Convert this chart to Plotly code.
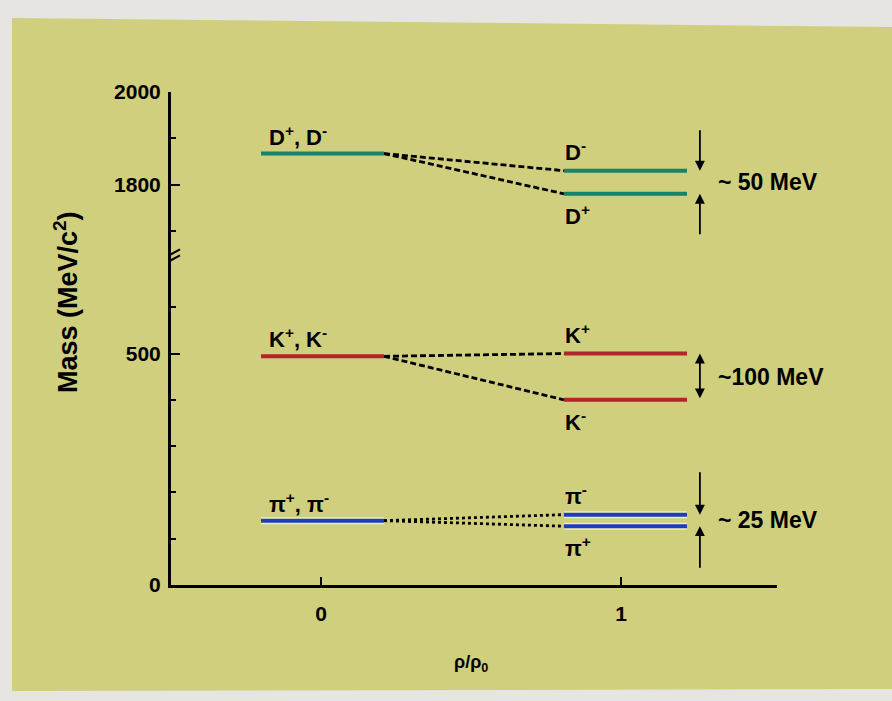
import plotly.graph_objects as go

# ---- level data (MeV/c^2) --------------------------------------------------
mesons = ["pi", "K", "D"]
vacuum_mass = [139, 494, 1867]          # degenerate pair at rho/rho0 = 0
upper_mass = [152, 500, 1830]           # pi-, K+, D-  at rho/rho0 = 1
lower_mass = [127, 400, 1780]           # pi+, K-, D+  at rho/rho0 = 1

vacuum_names = ["π<sup>+</sup>, π<sup>-</sup>", "K<sup>+</sup>, K<sup>-</sup>", "D<sup>+</sup>, D<sup>-</sup>"]
upper_names = ["π<sup>-</sup>", "K<sup>+</sup>", "D<sup>-</sup>"]
lower_names = ["π<sup>+</sup>", "K<sup>-</sup>", "D<sup>+</sup>"]
splitting_text = ["~ 25 MeV", "~100 MeV", "~ 50 MeV"]

y_major_ticks = [0, 500, 1800, 2000]
y_minor_ticks = [100, 200, 300, 400, 600, 1700, 1900]
x_ticks = [0, 1]

# ---- styling -------------------------------------------------------------
level_colors = {"pi": "#1c3dbd", "K": "#b3242b", "D": "#17836a"}
connector_dash = {"pi": "3px,3px", "K": "6px,3px", "D": "6px,3px"}
arrow_kind = {"pi": "inward", "K": "between", "D": "inward"}
arrow_tails = {"pi": (-44, 43), "D": (-42, 42)}
FONT = "Liberation Sans, Arial, sans-serif"
PANEL = "#cfcf7e"
OUTER = "#e7e5e1"

# broken mass axis: values above the break are shifted down by OFFSET
OFFSET = 935
BREAK_AT = 708


def ty(m):
    return m - OFFSET if m > 1000 else m


# horizontal extent of the levels (in rho/rho0)
VAC_X = [-0.2, 0.21]
NUC_X = [0.81, 1.22]
ARROW_X = 1.263
TEXT_X = 1.318

W, H = 892, 701
ML, MR, MT, MB = 171, 115, 92, 116
PW, PH = W - ML - MR, H - MT - MB


def pxp(px, py):
    return (px - ML) / PW, (H - MB - py) / PH


fig = go.Figure()

for i, name in enumerate(mesons):
    col = level_colors[name]
    m0, mu, ml = vacuum_mass[i], upper_mass[i], lower_mass[i]
    # dashed connectors from vacuum level to split levels
    for mt in (mu, ml):
        fig.add_trace(go.Scatter(
            x=[VAC_X[1], NUC_X[0]], y=[ty(m0), ty(mt)], mode="lines",
            line=dict(color="black", width=2.8, dash=connector_dash[name]),
            hoverinfo="skip", showlegend=False))
    # solid levels
    for xs, m in ((VAC_X, m0), (NUC_X, mu), (NUC_X, ml)):
        if name == "pi":
            fig.add_trace(go.Scatter(
                x=xs, y=[ty(m), ty(m)], mode="lines",
                line=dict(color="#eef0b8", width=7),
                hoverinfo="skip", showlegend=False))
        fig.add_trace(go.Scatter(
            x=xs, y=[ty(m), ty(m)], mode="lines",
            line=dict(color=col, width=4),
            hoverinfo="skip", showlegend=False))

annotations = []
lab_font = dict(family=FONT, size=22, color="black", weight="bold")
for i, name in enumerate(mesons):
    m0, mu, ml = vacuum_mass[i], upper_mass[i], lower_mass[i]
    annotations.append(dict(x=VAC_X[0] + 0.02, y=ty(m0), xref="x", yref="y",
                            text=vacuum_names[i], showarrow=False, xanchor="left",
                            yanchor="middle", yshift=18, font=lab_font))
    annotations.append(dict(x=NUC_X[0] - 0.005, y=ty(mu), xref="x", yref="y",
                            text=upper_names[i], showarrow=False, xanchor="left",
                            yanchor="middle", yshift=20, font=lab_font))
    annotations.append(dict(x=NUC_X[0] - 0.005, y=ty(ml), xref="x", yref="y",
                            text=lower_names[i], showarrow=False, xanchor="left",
                            yanchor="middle", yshift=-21, font=lab_font))
    # splitting arrows
    arrow = dict(showarrow=True, arrowhead=2, arrowsize=1.1, arrowwidth=1.8,
                 arrowcolor="black", text="", xref="x", yref="y")
    if arrow_kind[name] == "between":
        annotations.append(dict(arrow, x=ARROW_X, y=ty(mu), ax=ARROW_X, ay=ty(ml),
                                axref="x", ayref="y", arrowside="end+start",
                                startarrowhead=2, startarrowsize=1.1))
    else:
        up_tail, low_tail = arrow_tails[name]
        annotations.append(dict(arrow, x=ARROW_X, y=ty(mu), ax=0, ay=up_tail))
        annotations.append(dict(arrow, x=ARROW_X, y=ty(ml), ax=0, ay=low_tail))
    annotations.append(dict(x=TEXT_X, y=(ty(mu) + ty(ml)) / 2, xref="x", yref="y",
                            text=splitting_text[i], showarrow=False, xanchor="left",
                            yanchor="middle",
                            font=dict(family=FONT, size=23, color="black", weight="bold")))

# axis titles
tx, tyy = pxp(66, 302)
annotations.append(dict(x=tx, y=tyy, xref="paper", yref="paper", xanchor="center",
                        yanchor="middle", text="Mass (MeV/c<sup>2</sup>)", showarrow=False,
                        textangle=-90,
                        font=dict(family=FONT, size=27, color="black", weight="bold")))
tx, tyy = pxp(471, 663)
annotations.append(dict(x=tx, y=tyy, xref="paper", yref="paper", xanchor="center",
                        yanchor="middle", text="ρ/ρ<sub>0</sub>", showarrow=False,
                        font=dict(family=FONT, size=18, color="black", weight="bold")))

# background panel
corners = [pxp(12, 18), pxp(892, 27), pxp(892, 689), pxp(12, 691)]
path = "M " + " L ".join(f"{x:.4f},{y:.4f}" for x, y in corners) + " Z"
shapes = [dict(type="path", path=path, xref="paper", yref="paper",
               fillcolor=PANEL, line=dict(width=0), layer="below")]

# axis break marks
shapes.append(dict(type="rect", xref="x", yref="y", xsizemode="pixel", ysizemode="pixel",
                   xanchor=-0.5, yanchor=BREAK_AT, x0=-4, x1=4, y0=-2, y1=3,
                   fillcolor=PANEL, line=dict(width=0), layer="above"))
for dy in (-3, 3):
    shapes.append(dict(type="line", xref="x", yref="y", xsizemode="pixel",
                       ysizemode="pixel", xanchor=-0.5, yanchor=BREAK_AT,
                       x0=-9, x1=9, y0=dy - 5, y1=dy + 5,
                       line=dict(color="black", width=2), layer="above"))

tick_font = dict(family=FONT, size=21, color="black", weight="bold")
fig.update_layout(
    width=W, height=H, autosize=False,
    margin=dict(l=ML, r=MR, t=MT, b=MB, pad=0),
    paper_bgcolor=OUTER, plot_bgcolor="rgba(0,0,0,0)",
    showlegend=False,
    shapes=shapes, annotations=annotations,
    xaxis=dict(range=[-0.5, 1.52], showgrid=False, zeroline=False,
               showline=True, linecolor="black", linewidth=3,
               ticks="inside", ticklen=8, tickwidth=2, tickcolor="black",
               tickvals=x_ticks, ticktext=[str(v) for v in x_ticks],
               tickfont=tick_font, ticklabelstandoff=8),
    yaxis=dict(range=[0, ty(2000)], showgrid=False, zeroline=False,
               showline=True, linecolor="black", linewidth=3,
               ticks="inside", ticklen=9, tickwidth=2, tickcolor="black",
               tickvals=[ty(v) for v in y_major_ticks],
               ticktext=[str(v) for v in y_major_ticks],
               tickfont=tick_font, ticklabelstandoff=3,
               minor=dict(tickmode="array", tickvals=[ty(v) for v in y_minor_ticks],
                          ticks="inside", ticklen=5, tickwidth=2, tickcolor="black",
                          showgrid=False)),
)

fig.write_html("out.html")
